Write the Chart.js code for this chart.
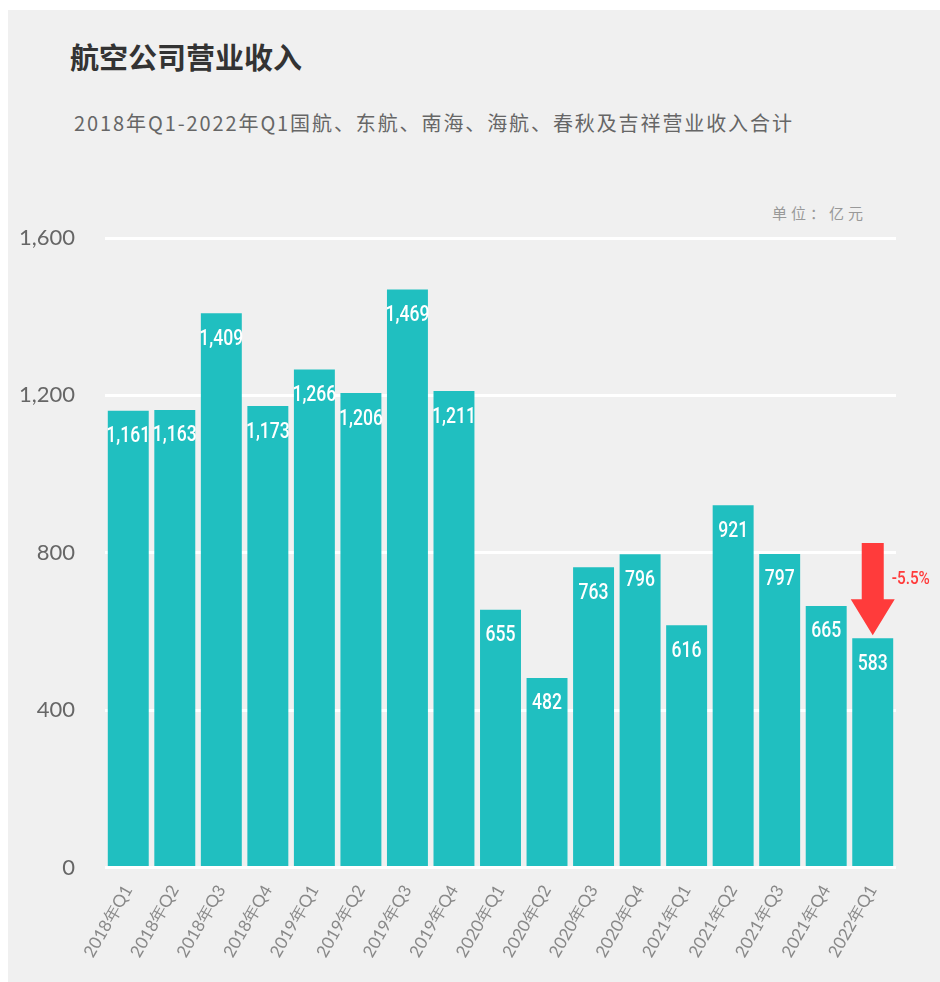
<!DOCTYPE html>
<html>
<head>
<meta charset="utf-8">
<script src="https://cdn.jsdelivr.net/npm/chart.js@4.4.1/dist/chart.umd.min.js"></script>
<style>
  body { margin: 0; background: #fff; width: 940px; height: 982px; overflow: hidden; position: relative; }
  #panel { position: absolute; left: 8px; top: 10px; width: 932px; height: 972px; background: #f0f0f0; }
  #title { position: absolute; left: 62px; top: 25px; font: bold 29px "Noto Sans CJK SC", sans-serif; color: #333; }
  #subtitle { position: absolute; left: 66px; top: 98px; font: 20px "Noto Sans CJK SC", serif; color: #666; letter-spacing: 1.9px; }
  #unit { position: absolute; left: 764px; top: 192px; font: 15px "Noto Sans CJK SC", sans-serif; color: #999; letter-spacing: 4px; }
  #wrap { position: absolute; left: 0; top: 0; width: 940px; height: 982px; }
</style>
</head>
<body>
<div id="panel">
  <div id="title">航空公司营业收入</div>
  <div id="subtitle">2018年Q1-2022年Q1国航、东航、南海、海航、春秋及吉祥营业收入合计</div>
  <div id="unit">单位：亿元</div>
</div>
<div id="wrap"><canvas id="revenue-chart"></canvas></div>
<script>
const quarters = ['2018年Q1', '2018年Q2', '2018年Q3', '2018年Q4', '2019年Q1', '2019年Q2', '2019年Q3', '2019年Q4',
    '2020年Q1', '2020年Q2', '2020年Q3', '2020年Q4', '2021年Q1', '2021年Q2', '2021年Q3', '2021年Q4', '2022年Q1'];
const revenue = [1161, 1163, 1409, 1173, 1266, 1206, 1469, 1211, 655, 482, 763, 796, 616, 921, 797, 665, 583];
const yTicks = [0, 400, 800, 1200, 1600];
const arrowFrom = 825;      // top of the red arrow (value)
const arrowLabel = '-5.5%';

const barColor = '#20bfc0';
const numFont = 'Roboto, sans-serif';

// white value labels inside the top of each bar (squeezed a bit, the original font is condensed)
const valueLabels = {
    id: 'valueLabels',
    afterDatasetsDraw(chart) {
        const c = chart.ctx;
        const meta = chart.getDatasetMeta(0);
        c.save();
        c.fillStyle = '#fff';
        c.font = '500 22px ' + numFont;
        c.textAlign = 'center';
        c.textBaseline = 'middle';
        meta.data.forEach((bar, i) => {
            c.save();
            c.translate(bar.x, bar.y + 26);
            c.scale(0.8, 1);
            c.fillText(revenue[i].toLocaleString('en-US'), 0, 0);
            c.restore();
        });
        c.restore();
    }
};

// red drop arrow on the last quarter
const dropArrow = {
    id: 'dropArrow',
    afterDatasetsDraw(chart) {
        const c = chart.ctx;
        const y = chart.scales.y;
        const last = chart.getDatasetMeta(0).data[revenue.length - 1];
        const x = last.x;
        const top = y.getPixelForValue(arrowFrom);
        const tip = y.getPixelForValue(revenue[revenue.length - 1]) - 3;
        const headLen = 36, shaft = 11, head = 22;
        c.save();
        c.fillStyle = '#ff3b3b';
        c.beginPath();
        c.moveTo(x - shaft, top);
        c.lineTo(x + shaft, top);
        c.lineTo(x + shaft, tip - headLen);
        c.lineTo(x + head, tip - headLen);
        c.lineTo(x, tip);
        c.lineTo(x - head, tip - headLen);
        c.lineTo(x - shaft, tip - headLen);
        c.closePath();
        c.fill();
        c.translate(x + 19, (top + tip) / 2 - 10);
        c.scale(0.85, 1);
        c.font = '500 18px ' + numFont;
        c.textAlign = 'left';
        c.textBaseline = 'middle';
        c.fillText(arrowLabel, 0, 0);
        c.restore();
    }
};

function initChart() {
    const ctx = document.getElementById('revenue-chart').getContext('2d');
    new Chart(ctx, {
        type: 'bar',
        data: {
            labels: quarters,
            datasets: [{
                data: revenue,
                backgroundColor: barColor,
                borderWidth: 0,
                barPercentage: 0.88,
                categoryPercentage: 1
            }]
        },
        options: {
            responsive: false,
            animation: false,
            devicePixelRatio: 1,
            layout: { padding: { left: 14, right: 44, top: 238, bottom: 15 } },
            plugins: { legend: { display: false }, tooltip: { enabled: false } },
            scales: {
                x: {
                    grid: { display: false },
                    border: { display: false },
                    afterFit: axis => { axis.paddingLeft = 0; axis.paddingRight = 0; },
                    ticks: {
                        color: '#888',
                        font: { size: 17, family: 'Lato, sans-serif' },
                        minRotation: 60,
                        maxRotation: 60,
                        padding: 6
                    }
                },
                y: {
                    min: 0,
                    max: 1600,
                    afterBuildTicks: axis => { axis.ticks = yTicks.map(v => ({ value: v })); },
                    afterFit: axis => { axis.width = 91; },
                    grid: { color: '#ffffff', lineWidth: 3, drawTicks: false },
                    border: { display: false },
                    ticks: {
                        color: '#666',
                        font: { size: 22, family: 'Lato, sans-serif' },
                        padding: 30,
                        callback: v => v.toLocaleString('en-US')
                    }
                }
            }
        },
        plugins: [valueLabels, dropArrow]
    });
}

document.addEventListener('DOMContentLoaded', () => {
    const cv = document.getElementById('revenue-chart');
    cv.width = 940;
    cv.height = 982;
    initChart();
});
</script>
</body>
</html>
